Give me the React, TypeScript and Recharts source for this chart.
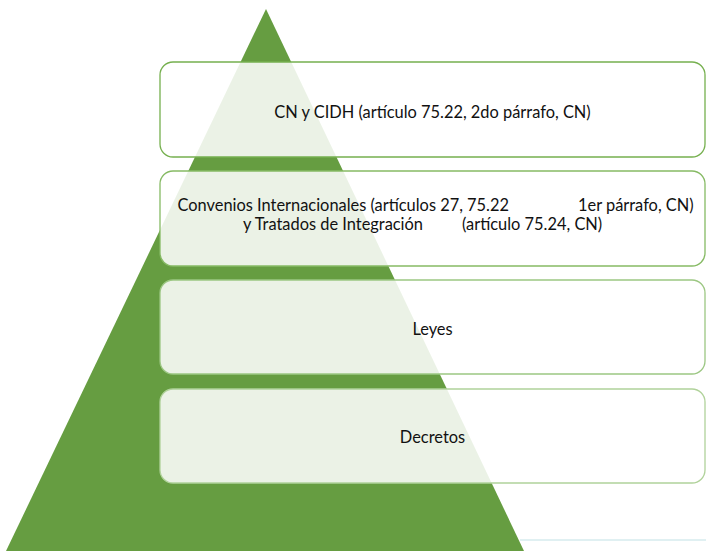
import React from 'react'
import { ComposedChart, Area, XAxis, YAxis, ReferenceArea, ReferenceLine } from 'recharts'

// pyramid outline (x in px from left, y in px from bottom)
const pyramidX = [6, 266, 524]
const pyramidY = [0, 542, 0]

// level boxes, top and bottom in px from bottom
const levelTop = [489, 380, 271, 162]
const levelBottom = [394, 285, 177, 68]
const levelLeft = 160
const levelRight = 705

// each level: lines, each line: text segments
const levelLabels: string[][][] = [
  [['CN y CIDH (artículo 75.22, 2do párrafo, CN)']],
  [
    ['Convenios Internacionales (artículos 27, 75.22', '1er párrafo, CN)'],
    ['y Tratados de Integración', '(artículo 75.24, CN)'],
  ],
  [['Leyes']],
  [['Decretos']],
]

// where the split segments sit (end of first, start of second)
const splitAt: Record<string, [number, number]> = {
  '1-0': [509, 578],
  '1-1': [423, 462],
}
// small vertical nudge of the text block in each box
const textShift = [2, -5, 1, 0]
const strokes = ['#76b04f', '#86ba64', '#9cc783', '#b0d29a']

const W = 706
const H = 551
const FONT = 'Lato, "Open Sans", sans-serif'
const FS = 16.4

const pyramidData = pyramidX.map((x, i) => ({ x, y: pyramidY[i] }))

const LevelBox = (idx: number) => (props: any) => {
  const { x, y, width, height } = props
  const lines = levelLabels[idx]
  const cy = y + height / 2 + textShift[idx]
  const lh = 19
  return (
    <g>
      <rect
        x={x}
        y={y}
        width={width}
        height={height}
        rx={13}
        ry={13}
        fill="#ffffff"
        fillOpacity={0.87}
        stroke={strokes[idx]}
        strokeWidth={1.3}
      />
      {lines.map((segs, li) => {
        const ty = cy + (li - (lines.length - 1) / 2) * lh
        if (segs.length === 1) {
          return (
            <text key={li} x={x + width / 2} y={ty} textAnchor="middle" dominantBaseline="central"
              fontFamily={FONT} fontSize={FS} fill="#111">
              {segs[0]}
            </text>
          )
        }
        const [a, b] = splitAt[`${idx}-${li}`]
        return (
          <g key={li}>
            <text x={a} y={ty} textAnchor="end" dominantBaseline="central" fontFamily={FONT} fontSize={FS} fill="#111">
              {segs[0]}
            </text>
            <text x={b} y={ty} textAnchor="start" dominantBaseline="central" fontFamily={FONT} fontSize={FS} fill="#111">
              {segs[1]}
            </text>
          </g>
        )
      })}
    </g>
  )
}

export default function App() {
  return (
    <div style={{ position: 'absolute', left: 0, top: 0, width: W, height: H, background: '#fff' }}>
      <ComposedChart width={W} height={H} data={pyramidData} margin={{ top: 0, right: 0, bottom: 0, left: 0 }}>
        <XAxis dataKey="x" type="number" domain={[0, W]} hide />
        <YAxis type="number" domain={[0, H]} hide />
        <ReferenceLine segment={[{ x: 520, y: 11 }, { x: W, y: 11 }]} stroke="#d6ebee" strokeWidth={1.5} />
        <Area
          type="linear"
          dataKey="y"
          stroke="none"
          fill="#669d41"
          fillOpacity={1}
          isAnimationActive={false}
          dot={false}
          activeDot={false}
        />
        {levelTop.map((t, i) => (
          <ReferenceArea
            key={i}
            x1={levelLeft}
            x2={levelRight}
            y1={levelBottom[i]}
            y2={t}
            ifOverflow="visible"
            shape={LevelBox(i)}
          />
        ))}
      </ComposedChart>
    </div>
  )
}
